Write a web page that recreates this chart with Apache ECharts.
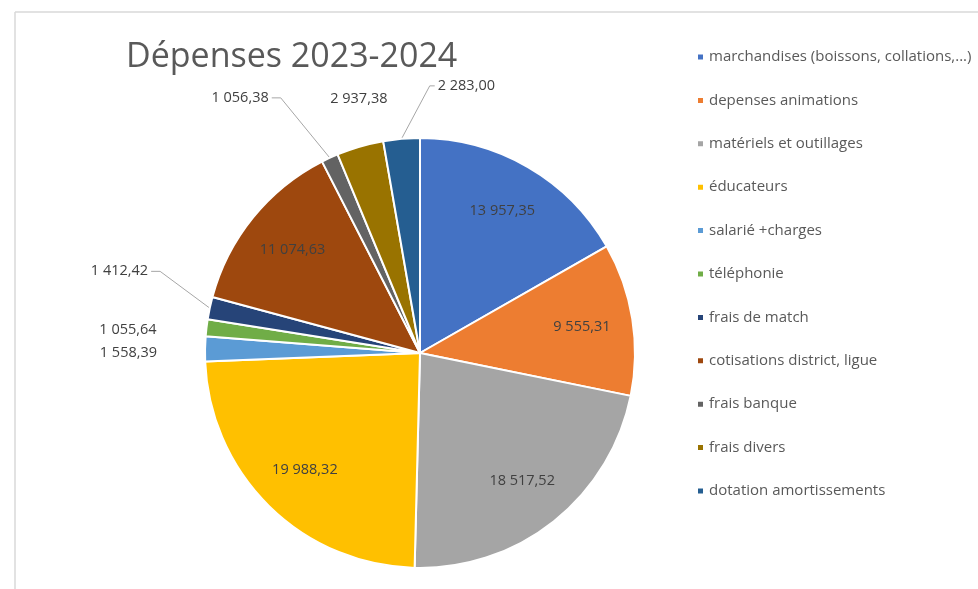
<!DOCTYPE html>
<html>
<head>
<meta charset="utf-8">
<script src="https://cdn.jsdelivr.net/npm/echarts@6/dist/echarts.min.js"></script>
<style>
html,body{margin:0;padding:0;background:#fff;}
#c{width:978px;height:589px;}
</style>
</head>
<body>
<div id="c"></div>
<script>
const categories = [
  'marchandises (boissons, collations,...)',
  'depenses animations',
  'matériels et outillages',
  'éducateurs',
  'salarié +charges',
  'téléphonie',
  'frais de match',
  'cotisations district, ligue',
  'frais banque',
  'frais divers',
  'dotation amortissements'
];
const values = [13957.35, 9555.31, 18517.52, 19988.32, 1558.39, 1055.64, 1412.42, 11074.63, 1056.38, 2937.38, 2283.00];
const colors = ['#4472C4','#ED7D31','#A5A5A5','#FFC000','#5B9BD5','#70AD47','#264478','#9E480E','#636363','#997300','#255E91'];
const insideLabels = [0,1,2,3,7];
const noLine = [4,5,9];
// label nudges (px) for outside labels, by slice index
const labelShift = {4:[-20,4], 5:[-22,4], 6:[-34,-33], 8:[-18,-57], 9:[68,-39], 10:[110,-35]};

function fmt(v){
  const s = v.toFixed(2).replace('.', ',');
  const parts = s.split(',');
  return parts[0].replace(/\B(?=(\d{3})+(?!\d))/g, ' ') + ',' + parts[1];
}

const font = '"Open Sans", "Noto Sans", sans-serif';
const chart = echarts.init(document.getElementById('c'));

const mainData = categories.map((n,i)=>({
  name:n, value:values[i],
  itemStyle:{color:colors[i]},
  label:{show: insideLabels.indexOf(i) < 0},
  labelLine:{show: insideLabels.indexOf(i) < 0 && noLine.indexOf(i) < 0}
}));
const overlayData = categories.map((n,i)=>({
  name:n, value:values[i],
  label:{show: insideLabels.indexOf(i) >= 0}
}));

function layoutLabel(p){
  const s = labelShift[p.dataIndex];
  if (!s) return {};
  const out = {dx:s[0], dy:s[1]};
  const pts = p.labelLinePoints;
  if (pts && noLine.indexOf(p.dataIndex) < 0) {
    const r = p.labelRect;
    const nx = r.x + s[0], ny = r.y + s[1];
    const start = pts[0];
    const midY = ny + r.height / 2;
    let anchor, elbow;
    if (nx > start[0]) {
      anchor = [nx - 3, midY];
      elbow = [nx - 8, midY];
    } else {
      anchor = [nx + r.width + 3, midY];
      elbow = [nx + r.width + 12, midY];
    }
    out.labelLinePoints = [start, elbow, anchor];
  }
  return out;
}

chart.setOption({
  animation:false,
  color: colors,
  title:{
    text:'Dépenses 2023-2024',
    left:121, top:35,
    textStyle:{fontFamily:font, fontSize:34, fontWeight:'normal', color:'#595959'}
  },
  legend:{
    orient:'vertical',
    left:691, top:43,
    itemWidth:7, itemHeight:7, icon:'rect',
    itemGap:25.4,
    textStyle:{fontFamily:font, fontSize:15, color:'#595959', lineHeight:18},
    data: categories
  },
  graphic:[
    {type:'line', shape:{x1:15,y1:12,x2:978,y2:12}, style:{stroke:'#d9d9d9', lineWidth:1.5}},
    {type:'line', shape:{x1:15,y1:12,x2:15,y2:589}, style:{stroke:'#d9d9d9', lineWidth:1.5}}
  ],
  series:[
    {
      type:'pie',
      center:[420,353],
      radius:[0,215],
      startAngle:90,
      clockwise:true,
      itemStyle:{borderColor:'#fff', borderWidth:2},
      label:{
        position:'outside',
        formatter: p => fmt(p.value),
        fontFamily:font, fontSize:14.5, color:'#404040'
      },
      labelLine:{length:18, length2:10, lineStyle:{color:'#a6a6a6', width:1}},
      labelLayout: layoutLabel,
      emphasis:{disabled:true},
      data: mainData
    },
    {
      type:'pie',
      center:[420,353],
      radius:[107,215],
      startAngle:90,
      clockwise:true,
      silent:true,
      itemStyle:{color:'rgba(0,0,0,0)', borderWidth:0},
      label:{
        position:'inside',
        formatter: p => fmt(p.value),
        fontFamily:font, fontSize:14.5, color:'#404040'
      },
      labelLine:{show:false},
      emphasis:{disabled:true},
      data: overlayData
    }
  ]
});
</script>
</body>
</html>
